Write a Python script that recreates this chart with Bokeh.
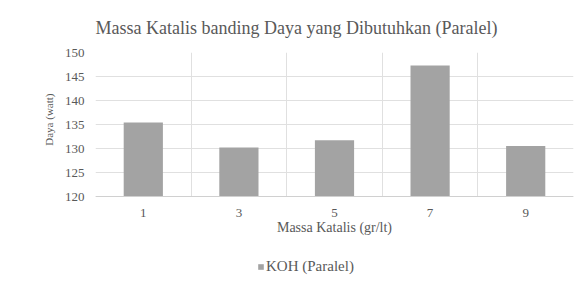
from bokeh.plotting import figure
from bokeh.models import FixedTicker, Legend, LegendItem, Title, ColumnDataSource, Range1d
from bokeh.embed import file_html
from bokeh.resources import INLINE

categories = ["1", "3", "5", "7", "9"]
values = [135.4, 130.2, 131.7, 147.3, 130.5]
y_ticks = [120, 125, 130, 135, 140, 145, 150]
y_min, y_max = 120, 150

FONT = "Liberation Serif"
TXT = "#595959"

xpos = [i + 0.5 for i in range(len(categories))]
src = ColumnDataSource(dict(x=xpos, top=values, cat=categories))

# the frame runs to the bottom of the canvas so the legend under the axis stays visible;
# 150 sits at y=52 and 120 at y=196 (4.8 px per unit)
px_per_unit = 144 / (y_max - y_min)
y_start = y_min - 89 / px_per_unit

p = figure(width=575, height=285, output_backend="svg", toolbar_location=None,
           x_range=Range1d(0, len(categories)), y_range=Range1d(y_start, y_max),
           min_border_left=95, min_border_right=2, min_border_top=52, min_border_bottom=0)

r = p.vbar(x="x", top="top", bottom=y_min, width=0.41, source=src,
           fill_color="#a3a3a3", line_color=None)

p.xaxis.ticker = FixedTicker(ticks=xpos)
p.xaxis.major_label_overrides = {x: c for x, c in zip(xpos, categories)}
p.xaxis.fixed_location = y_min
p.xgrid.ticker = FixedTicker(ticks=list(range(len(categories) + 1)))
p.xgrid.cross_bounds = (y_min, y_max)
p.yaxis.ticker = FixedTicker(ticks=y_ticks)
p.yaxis.bounds = (y_min, y_max)

for ax in (p.xaxis[0], p.yaxis[0]):
    ax.major_tick_line_color = None
    ax.minor_tick_line_color = None
    ax.major_label_text_font = FONT
    ax.major_label_text_color = TXT
    ax.major_label_text_font_size = "13px"
    ax.axis_label_text_font = FONT
    ax.axis_label_text_color = TXT
    ax.axis_label_text_font_style = "normal"

p.yaxis.axis_line_color = None
p.xaxis.axis_line_color = "#d0d0d0"
p.xaxis.major_label_standoff = 6
p.yaxis.major_label_standoff = 5
p.xaxis.axis_label = "Massa Katalis (gr/lt)"
p.xaxis.axis_label_text_font_size = "14px"
p.xaxis.axis_label_standoff = 0

p.xgrid.grid_line_color = "#e0e0e0"
p.ygrid.grid_line_color = "#e0e0e0"
p.outline_line_color = None

p.title = Title(text="Massa Katalis banding Daya yang Dibutuhkan  (Paralel)",
                align="left", offset=0, text_font=FONT, text_font_size="18px",
                text_color=TXT, text_font_style="normal", standoff=30)

# y-axis title, centred on the 120-150 span
p.add_layout(Title(text="Daya (watt)", align="right", offset=41, text_font=FONT,
                   text_font_size="11px", text_color=TXT, text_font_style="normal",
                   standoff=14), "left")

legend = Legend(items=[LegendItem(label="KOH (Paralel)", renderers=[r])],
                location=(162, 10), orientation="horizontal",
                label_text_font=FONT, label_text_font_size="15px", label_text_color=TXT,
                glyph_width=7, glyph_height=7, label_standoff=2, label_height=14,
                padding=0, margin=0,
                border_line_color=None, background_fill_alpha=0)
p.add_layout(legend, "center")

open("out.html", "w").write(file_html(p, INLINE))
